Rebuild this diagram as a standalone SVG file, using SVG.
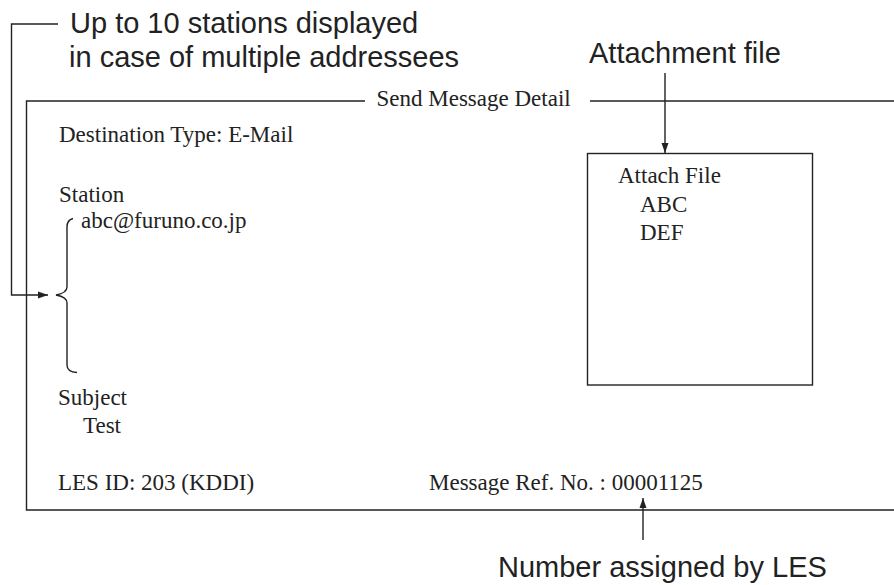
<svg xmlns="http://www.w3.org/2000/svg" width="894" height="585" viewBox="0 0 894 585">
<style>
.s{font-family:"Liberation Sans",Arial,sans-serif;font-size:29px;fill:#222}
.t{font-family:"Liberation Serif","Times New Roman",serif;font-size:23px;fill:#222}
.l{stroke:#222;stroke-width:1.4;fill:none}
</style>
<defs>
<marker id="ah" markerWidth="10" markerHeight="8" refX="10" refY="4" orient="auto" markerUnits="userSpaceOnUse">
<path d="M0,0.5 L10,4 L0,7.5 Z" fill="#222"/>
</marker>
</defs>
<rect width="894" height="585" fill="#fff"/>
<g id="frame">
<path class="l" d="M365,101 H26.5 V510 H894"/>
<path class="l" d="M590,101 H894"/>
<text class="t" x="376.5" y="106">Send Message Detail</text>
</g>
<g id="fields">
<text class="t" x="59" y="142">Destination Type: E-Mail</text>
<text class="t" x="59" y="202">Station</text>
<text class="t" x="81" y="228">abc@furuno.co.jp</text>
<text class="t" x="58" y="405">Subject</text>
<text class="t" x="83" y="433">Test</text>
<text class="t" x="58" y="490">LES ID: 203 (KDDI)</text>
<text class="t" x="429" y="490">Message Ref. No. : 00001125</text>
</g>
<g id="brace">
<path class="l" d="M73,218.5 Q67,220 67,227 V287 Q67,293 56,295 Q67,297 67,303 V365 Q67,372 77,372.5"/>
</g>
<g id="attach">
<rect class="l" x="587.5" y="153.5" width="225" height="231.5"/>
<text class="t" x="618" y="183">Attach File</text>
<text class="t" x="640" y="211.5">ABC</text>
<text class="t" x="640" y="240">DEF</text>
</g>
<g id="labels">
<text class="s" x="70" y="33">Up to 10 stations displayed</text>
<text class="s" x="69" y="67">in case of multiple addressees</text>
<text class="s" x="589" y="63">Attachment file</text>
<text class="s" x="498" y="577">Number assigned by LES</text>
</g>
<g id="connectors">
<path class="l" d="M58,24 H11.5 V295 H48" marker-end="url(#ah)"/>
<path class="l" d="M665,73 V153" marker-end="url(#ah)"/>
<path class="l" d="M643,540 V498" marker-end="url(#ah)"/>
</g>
</svg>
